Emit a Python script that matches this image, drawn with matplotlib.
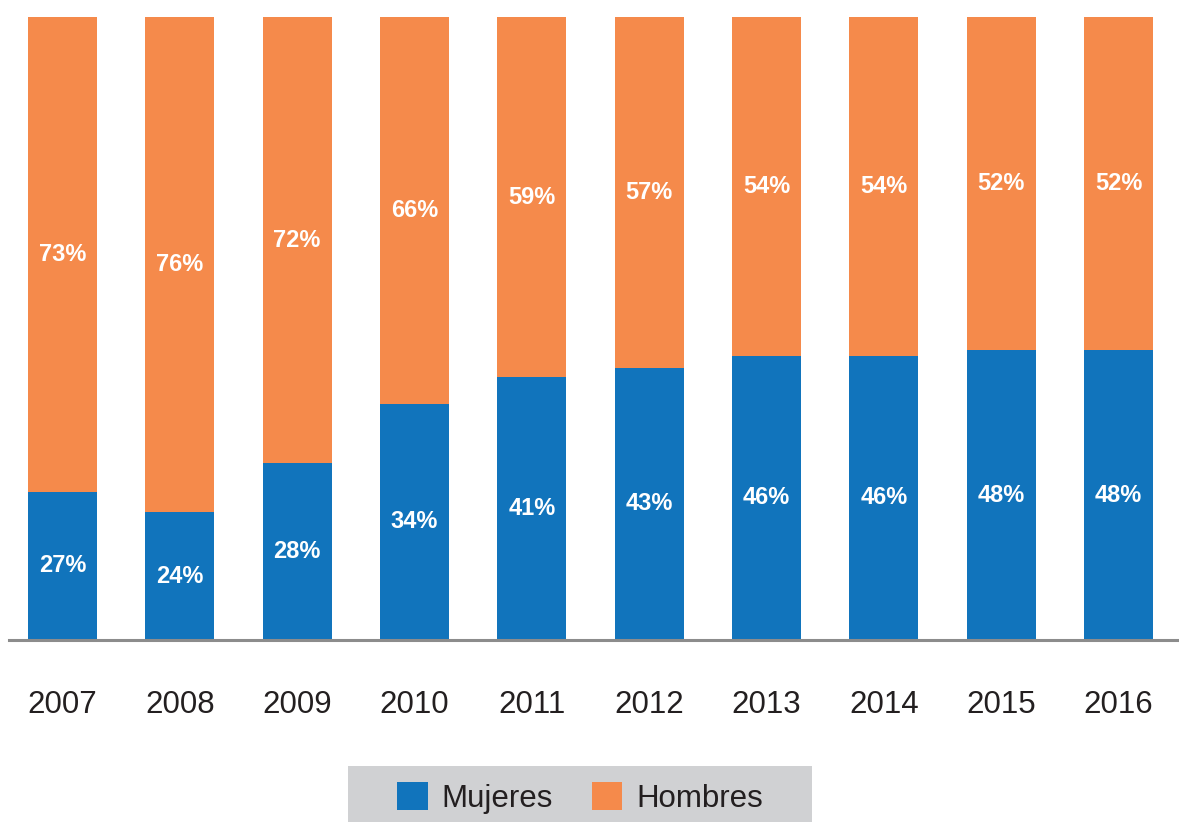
import matplotlib.pyplot as plt
import numpy as np
from matplotlib.patches import Rectangle, Patch

# 데이터
years = ['2007', '2008', '2009', '2010', '2011', '2012', '2013', '2014', '2015', '2016']
mujeres = [23.8, 20.5, 28.4, 37.9, 42.2, 43.7, 45.6, 45.6, 46.5, 46.5]  # bar heights as drawn
hombres = [100 - v for v in mujeres]
mujeres_lbl = [27, 24, 28, 34, 41, 43, 46, 46, 48, 48]
hombres_lbl = [73, 76, 72, 66, 59, 57, 54, 54, 52, 52]

BLUE = '#1174bc'
ORANGE = '#f58a4b'

plt.rcParams['font.family'] = ['Liberation Sans', 'DejaVu Sans']

fig = plt.figure(figsize=(11.79, 8.22), dpi=100)
ax = fig.add_axes([9 / 1179, (822 - 640) / 822, 1170 / 1179, 623 / 822])

x = np.arange(len(years))
w = 0.588
b1 = ax.bar(x, mujeres, w, color=BLUE)
b2 = ax.bar(x, hombres, w, bottom=mujeres, color=ORANGE)

for i in range(len(years)):
    ax.text(x[i], mujeres[i] / 2, f'{mujeres_lbl[i]}%', ha='center', va='center',
            color='white', fontsize=17, fontweight='bold')
    ax.text(x[i], mujeres[i] + hombres[i] / 2, f'{hombres_lbl[i]}%', ha='center', va='center',
            color='white', fontsize=17, fontweight='bold')

ax.set_xlim(-0.456, 9.516)
ax.set_ylim(0, 100)
ax.set_xticks(x)
ax.set_xticklabels(years, fontsize=22.5, color='#231f20')
ax.tick_params(axis='x', length=0, pad=36)
ax.set_yticks([])
for s in ['top', 'right', 'left']:
    ax.spines[s].set_visible(False)
ax.spines['bottom'].set_color('#8c8c8c')
ax.spines['bottom'].set_linewidth(2.2)

# 범례
fig.patches.append(Rectangle((348 / 1179, 0), 464 / 1179, 56 / 822,
                             transform=fig.transFigure, facecolor='#d0d1d3',
                             edgecolor='none', zorder=0))
handles = [Patch(facecolor=BLUE, label='Mujeres'), Patch(facecolor=ORANGE, label='Hombres')]
fig.legend(handles=handles, loc='center', bbox_to_anchor=(580 / 1179, (822 - 798) / 822),
           ncol=2, frameon=False, fontsize=22.5, handlelength=0.97, handleheight=0.97,
           handletextpad=0.44, columnspacing=1.25, labelcolor='#231f20')

fig.savefig('out.png', dpi=100)
